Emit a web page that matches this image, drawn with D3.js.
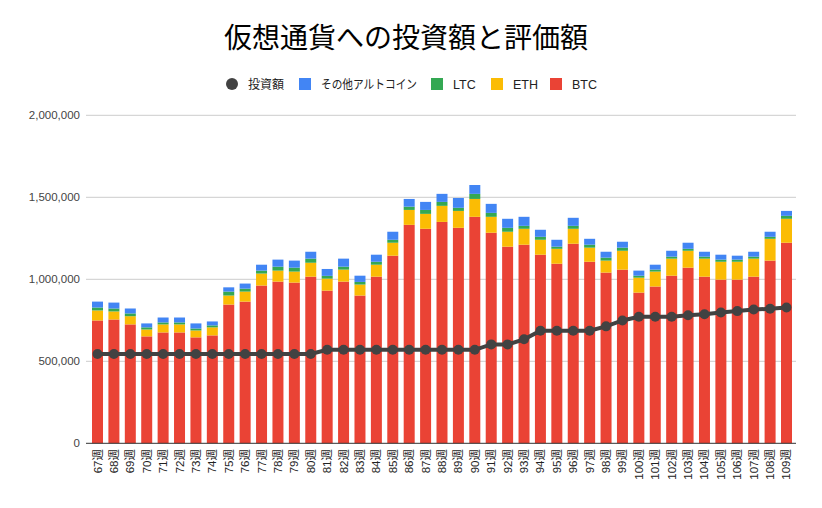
<!DOCTYPE html>
<html><head><meta charset="utf-8">
<script src="https://cdnjs.cloudflare.com/ajax/libs/d3/7.8.5/d3.min.js"></script>
<style>body{margin:0;background:#fff}svg{display:block}text{font-family:"Liberation Sans","Noto Sans CJK JP",Arial,sans-serif}</style>
</head><body><svg id="c" width="822" height="508"></svg>
<script>
const weeks = d3.range(67,110).map(w => w + "週");
const btc = [749,755,725,652,676,676,646,658,846,864,962,986,980,1016,931,986,901,1016,1144,1332,1308,1350,1314,1381,1284,1199,1211,1150,1095,1217,1107,1041,1059,919,956,1022,1071,1016,998,998,1016,1114,1223].map(v=>v*1000);
const eth = [61,49,50,42,49,49,42,49,55,61,73,67,67,85,73,73,67,73,79,91,91,98,103,109,97,91,97,91,91,91,86,73,115,91,91,104,103,110,109,109,110,133,146].map(v=>v*1000);
const ltc = [18,18,17,13,12,12,12,12,24,18,18,24,24,25,17,18,16,18,18,20,24,24,19,31,24,24,18,18,13,18,18,18,19,12,12,12,12,12,13,13,12,12,18].map(v=>v*1000);
const alt = [36,36,30,24,30,30,31,24,26,31,36,43,43,42,42,49,38,43,49,47,49,49,60,54,55,55,55,43,42,49,36,36,36,31,30,36,37,30,30,24,30,31,30].map(v=>v*1000);
const invest = [545,545,545,545,545,545,545,545,545,545,545,545,545,545,570,570,570,570,570,570,570,570,570,570,603,603,634,686,686,686,686,713,749,772,772,772,781,787,798,806,816,820,828].map(v=>v*1000);
const yTicks = [0,500000,1000000,1500000,2000000];
const seriesNames = ["BTC","ETH","LTC","その他アルトコイン"];
const colors = {"BTC":"#EA4335","ETH":"#FBBC04","LTC":"#34A853","その他アルトコイン":"#4285F4"};
const lineColor = "#424242";

const svg = d3.select("#c");
const x = d3.scaleBand().domain(weeks).range([89.3,794.7]).paddingInner(0.33).paddingOuter(0.165);
const y = d3.scaleLinear().domain([0,2000000]).range([443.3,115.3]);

// title
svg.append("text").attr("x",406).attr("y",48).attr("text-anchor","middle")
  .attr("font-size",28).attr("fill","#000").text("仮想通貨への投資額と評価額");

// grid
svg.append("g").selectAll("line").data(yTicks.slice(1)).join("line")
  .attr("x1",86).attr("x2",796).attr("y1",d=>y(d)).attr("y2",d=>y(d))
  .attr("stroke","#cccccc").attr("stroke-width",1);
svg.append("g").selectAll("text").data(yTicks).join("text")
  .attr("x",80).attr("y",d=>y(d)+4).attr("text-anchor","end").attr("font-size",11.5).attr("fill","#444")
  .text(d=>d3.format(",")(d));

// stacked bars
const rows = weeks.map((w,i)=>({week:w,"BTC":btc[i],"ETH":eth[i],"LTC":ltc[i],"その他アルトコイン":alt[i]}));
const stack = d3.stack().keys(seriesNames)(rows);
svg.append("g").selectAll("g").data(stack).join("g").attr("fill",d=>colors[d.key])
  .selectAll("rect").data(d=>d).join("rect")
  .attr("x",d=>x(d.data.week)).attr("width",x.bandwidth())
  .attr("y",d=>y(d[1])).attr("height",d=>y(d[0])-y(d[1]));

// baseline
svg.append("line").attr("x1",86).attr("x2",796).attr("y1",y(0)).attr("y2",y(0)).attr("stroke","#333").attr("stroke-width",1);

// x labels
svg.append("g").selectAll("text").data(weeks).join("text")
  .attr("transform",d=>`translate(${x(d)+x.bandwidth()/2+4},449) rotate(-90)`)
  .attr("text-anchor","end").attr("font-size",11.5).attr("fill","#222").text(d=>d);

// invest line
const line = d3.line().x((d,i)=>x(weeks[i])+x.bandwidth()/2).y(d=>y(d));
svg.append("path").datum(invest).attr("d",line).attr("fill","none").attr("stroke",lineColor).attr("stroke-width",4);
svg.append("g").selectAll("circle").data(invest).join("circle")
  .attr("cx",(d,i)=>x(weeks[i])+x.bandwidth()/2).attr("cy",d=>y(d)).attr("r",5).attr("fill",lineColor);

// legend
const leg = [
  {name:"投資額",type:"circle",color:lineColor,x:232,w:36},
  {name:"その他アルトコイン",type:"rect",color:colors["その他アルトコイン"],x:305,w:96},
  {name:"LTC",type:"rect",color:colors["LTC"],x:437,w:0},
  {name:"ETH",type:"rect",color:colors["ETH"],x:497,w:0},
  {name:"BTC",type:"rect",color:colors["BTC"],x:556,w:0}
];
const lg = svg.append("g");
leg.forEach(l=>{
  if(l.type==="circle") lg.append("circle").attr("cx",l.x).attr("cy",84).attr("r",6).attr("fill",l.color);
  else lg.append("rect").attr("x",l.x-6).attr("y",78).attr("width",12).attr("height",12).attr("fill",l.color);
  const t = lg.append("text").attr("x",l.x+16).attr("y",88.5).attr("font-size",12.5).attr("fill","#222").text(l.name);
  if(l.w) t.attr("textLength",l.w).attr("lengthAdjust","spacingAndGlyphs");
});
</script></body></html>
